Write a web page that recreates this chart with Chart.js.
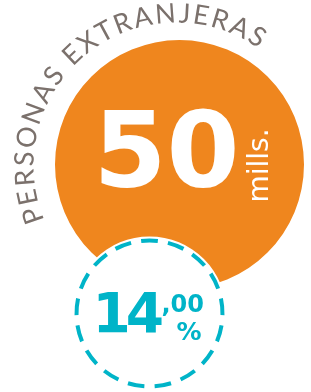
<!DOCTYPE html>
<html>
<head>
<meta charset="utf-8">
<script src="https://cdn.jsdelivr.net/npm/chart.js@4"></script>
<style>
html, body { margin: 0; padding: 0; background: #fff; }
#wrap { position: relative; width: 311px; height: 392px; overflow: hidden; }
#wrap canvas { position: absolute; left: 0; top: 0; }
</style>
</head>
<body>
<div id="wrap">
    <canvas id="totalChart" width="311" height="392"></canvas>
    <canvas id="shareChart" width="311" height="392"></canvas>
</div>
<script>
// chart data
const categories = ['Personas extranjeras'];
const titleText = 'PERSONAS EXTRANJERAS';
const totalValues = [50];      // millones
const totalUnit = 'mills.';
const shareValues = [14.00];   // porcentaje
const shareUnit = '%';

const orange = '#ef861e';
const teal = '#00b4c8';
const grey = '#7b716c';

// splits 14.00 into "14" and ",00"
function splitDecimal(value) {
    const parts = value.toFixed(2).split('.');
    return { whole: parts[0], decimals: ',' + parts[1] };
}

const totalLabels = {
    id: 'totalLabels',
    afterDatasetsDraw(chart) {
        const arc = chart.getDatasetMeta(0).data[0];
        const ctx = chart.ctx;
        const cx = arc.x, cy = arc.y;
        ctx.save();

        // curved title round the circle, from about 157deg to 305deg
        ctx.font = '400 27px Lato, "Open Sans", sans-serif';
        ctx.fillStyle = grey;
        ctx.textAlign = 'center';
        ctx.textBaseline = 'alphabetic';
        const tx = cx - 3, ty = cy + 1;
        const textR = 143;
        const startDeg = 157.5, endDeg = 305;
        const chars = titleText.split('');
        const widths = chars.map(c => ctx.measureText(c).width);
        const inkLen = widths.reduce((a, b) => a + b, 0);
        const span = (endDeg - startDeg) * Math.PI / 180 * textR;
        const gap = (span - inkLen) / (chars.length - 1);
        let angle = startDeg * Math.PI / 180;
        chars.forEach((c, i) => {
            const a = angle + widths[i] / 2 / textR;
            ctx.save();
            ctx.translate(tx + textR * Math.cos(a), ty + textR * Math.sin(a));
            ctx.rotate(a + Math.PI / 2);
            ctx.fillText(c, 0, 0);
            ctx.restore();
            angle += (widths[i] + gap) / textR;
        });

        // big number
        ctx.fillStyle = '#fff';
        ctx.textAlign = 'left';
        ctx.font = 'bold 105px "DejaVu Sans", sans-serif';
        ctx.fillText(String(totalValues[0]), cx - 86, cy + 22.5);

        // unit, rotated
        ctx.save();
        ctx.translate(cx + 88.5, cy + 38);
        ctx.rotate(-Math.PI / 2);
        ctx.font = '28px "DejaVu Sans", sans-serif';
        ctx.fillText(totalUnit, 0, 0);
        ctx.restore();

        ctx.restore();
    }
};

const shareLabels = {
    id: 'shareLabels',
    afterDatasetsDraw(chart) {
        const arc = chart.getDatasetMeta(0).data[0];
        const ctx = chart.ctx;
        const cx = arc.x, cy = arc.y;
        const ringR = arc.outerRadius - 4;
        ctx.save();

        // dashed ring, one arc per dash
        const n = 17;
        const step = 2 * Math.PI / n;
        const half = step * 0.62 / 2;
        ctx.strokeStyle = teal;
        ctx.lineWidth = 4;
        ctx.lineCap = 'butt';
        for (let i = 0; i < n; i++) {
            const a = -Math.PI / 2 + i * step;
            ctx.beginPath();
            ctx.arc(cx, cy, ringR, a - half, a + half);
            ctx.stroke();
        }

        // percentage
        const parts = splitDecimal(shareValues[0]);
        ctx.fillStyle = teal;
        ctx.textAlign = 'left';
        ctx.textBaseline = 'alphabetic';
        ctx.font = 'bold 55px "DejaVu Sans", sans-serif';
        ctx.letterSpacing = '-5px';
        ctx.fillText(parts.whole, cx - 57, cy + 18.5);
        ctx.letterSpacing = '0px';
        ctx.font = 'bold 24px "DejaVu Sans", sans-serif';
        ctx.fillText(parts.decimals, cx + 12, cy - 1.5);
        ctx.font = 'bold 25px "DejaVu Sans", sans-serif';
        ctx.fillText(shareUnit, cx + 27, cy + 26.5);

        ctx.restore();
    }
};

const baseOptions = {
    responsive: false,
    animation: false,
    events: [],
    plugins: {
        legend: { display: false },
        tooltip: { enabled: false }
    }
};

new Chart(document.getElementById('totalChart').getContext('2d'), {
    type: 'pie',
    data: {
        labels: categories,
        datasets: [{
            data: totalValues,
            backgroundColor: orange,
            borderWidth: 0,
            hoverOffset: 0
        }]
    },
    options: Object.assign({}, baseOptions, {
        layout: { padding: { left: 55, top: 40, right: 7, bottom: 103 } }
    }),
    plugins: [totalLabels]
});

new Chart(document.getElementById('shareChart').getContext('2d'), {
    type: 'pie',
    data: {
        labels: categories,
        datasets: [{
            data: shareValues,
            backgroundColor: '#fff',
            borderWidth: 0,
            hoverOffset: 0
        }]
    },
    options: Object.assign({}, baseOptions, {
        layout: { padding: { left: 72.5, top: 236.5, right: 84.5, bottom: 1.5 } }
    }),
    plugins: [shareLabels]
});
</script>
</body>
</html>
